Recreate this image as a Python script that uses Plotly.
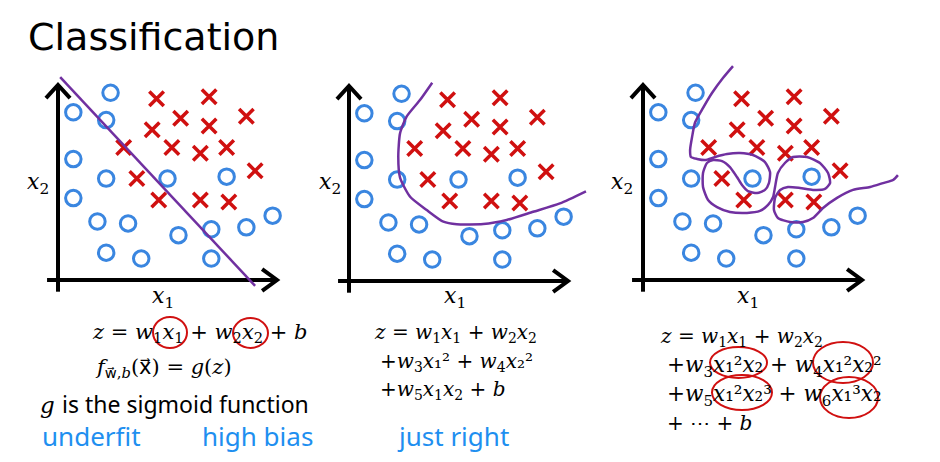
import plotly.graph_objects as go

# ---------------- data (axis units 0..10) ----------------
circ_x = [2.4, 0.7, 2.2, 0.7, 2.2, 5.0, 7.7, 0.7, 1.8, 3.2, 5.5, 7.0, 8.6, 9.8, 2.2, 3.8, 7.0]
circ_y = [9.6, 8.6, 8.2, 6.2, 5.2, 5.2, 5.3, 4.2, 3.0, 2.9, 2.3, 2.6, 2.7, 3.3, 1.4, 1.1, 1.1]
cross_x = [4.5, 6.9, 5.6, 8.6, 4.3, 6.9, 3.0, 5.2, 6.5, 7.7, 9.0, 3.6, 4.6, 6.5, 7.8]
cross_y = [9.3, 9.4, 8.3, 8.4, 7.7, 7.9, 6.8, 6.8, 6.5, 6.8, 5.6, 5.2, 4.1, 4.1, 4.0]

# decision boundaries
b1_x = [0.1, 9.0]
b1_y = [10.4, -0.3]
b2_x = [3.80, 3.24, 2.63, 2.33, 2.25, 2.33, 2.79, 3.55, 4.31, 4.92, 6.13, 7.20, 8.41, 9.63, 10.82]
b2_y = [10.17, 9.28, 8.43, 7.57, 6.37, 5.30, 4.32, 3.64, 3.04, 2.91, 2.92, 3.13, 3.55, 3.98, 4.60]
b3_x = [4.11, 3.65, 3.15, 2.69, 2.37, 2.24, 2.15, 2.19, 2.47, 2.83, 3.29, 3.84, 4.43, 5.02, 5.57,
        5.80, 5.75, 5.57, 5.21, 4.79, 4.52, 4.29, 3.97, 3.61, 3.20, 2.92, 2.74, 2.74, 2.97, 3.38,
        3.97, 4.75, 5.34, 5.71, 5.94, 6.03, 6.16, 6.48, 6.85, 7.49, 8.08, 8.45, 8.54, 8.31, 7.76,
        7.17, 6.62, 6.26, 6.03, 5.98, 6.16, 6.71, 7.31, 7.76, 8.22, 8.86, 9.59, 10.37, 10.96, 11.42, 11.64]
b3_y = [10.97, 10.36, 9.59, 8.72, 8.05, 7.33, 6.67, 6.31, 6.21, 6.15, 6.31, 6.46, 6.51, 6.41, 6.05,
        5.54, 4.97, 4.62, 4.46, 4.56, 4.87, 5.28, 5.79, 6.10, 6.15, 6.00, 5.49, 4.77, 4.10, 3.74,
        3.49, 3.44, 3.54, 3.85, 4.26, 4.77, 5.49, 6.00, 6.31, 6.31, 6.00, 5.49, 4.97, 4.67, 4.62,
        4.72, 4.77, 4.62, 4.21, 3.59, 3.18, 2.97, 2.97, 3.18, 3.69, 4.21, 4.62, 4.77, 4.97, 5.13, 5.38]
boundaries_x = [b1_x, b2_x, b3_x]
boundaries_y = [b1_y, b2_y, b3_y]

panel_labels = ["underfit", "high bias", "just right"]

# ---------------- layout helpers ----------------
OFF = 8                       # page body margin
W, H = 940 - 2 * OFF, 462 - 2 * OFF
SX, SY = 21.9, 19.5           # pixels per axis unit
origins = [(58, 280), (349, 281), (643, 280)]
xdoms_px = [(10, 300), (305, 605), (610, 930)]
PT, PB = 50, 310

BLUE = "#3a86e0"
RED = "#d01010"
PURPLE = "#7030a0"


def fx(x):
    return (x - OFF) / W


def fy(y):
    return 1 - (y - OFF) / H


fig = go.Figure()
layout = dict(width=W, height=H, margin=dict(l=0, r=0, t=0, b=0),
              paper_bgcolor="white", plot_bgcolor="white", showlegend=False)

for i in range(3):
    ox, oy = origins[i]
    xl, xr = xdoms_px[i]
    sfx = "" if i == 0 else str(i + 1)
    layout["xaxis" + sfx] = dict(domain=[fx(xl), fx(xr)], range=[(xl - ox) / SX, (xr - ox) / SX],
                                 visible=False, fixedrange=True, anchor="y" + sfx)
    layout["yaxis" + sfx] = dict(domain=[fy(PB), fy(PT)], range=[(oy - PB) / SY, (oy - PT) / SY],
                                 visible=False, fixedrange=True, anchor="x" + sfx)
    xa, ya = "x" + sfx, "y" + sfx
    # axes with open arrow heads
    fig.add_trace(go.Scatter(x=[-0.5, 10, None, 9.32, 10, 9.32], y=[0, 0, None, 0.56, 0, -0.56],
                             mode="lines", line=dict(color="black", width=4), xaxis=xa, yaxis=ya,
                             hoverinfo="skip"))
    fig.add_trace(go.Scatter(x=[0, 0, None, -0.55, 0, 0.55], y=[-0.6, 10, None, 9.33, 10, 9.33],
                             mode="lines", line=dict(color="black", width=4), xaxis=xa, yaxis=ya,
                             hoverinfo="skip"))
    fig.add_trace(go.Scatter(x=circ_x, y=circ_y, mode="markers", xaxis=xa, yaxis=ya,
                             marker=dict(symbol="circle-open", size=15.5, color=BLUE,
                                         line=dict(width=3, color=BLUE))))
    fig.add_trace(go.Scatter(x=cross_x, y=cross_y, mode="markers", xaxis=xa, yaxis=ya,
                             marker=dict(symbol="x-thin-open", size=14.5, color=RED,
                                         line=dict(width=3.5, color=RED))))
    fig.add_trace(go.Scatter(x=boundaries_x[i], y=boundaries_y[i], mode="lines", xaxis=xa, yaxis=ya,
                             line=dict(color=PURPLE, width=2.5, shape="spline", smoothing=0.6)))

fig.update_layout(**layout)

annos = []


def text(x, y, s, size, family="DejaVu Serif", color="black", xanchor="left"):
    annos.append(dict(x=fx(x), y=fy(y), xref="paper", yref="paper", text=s, showarrow=False,
                      xanchor=xanchor, yanchor="middle",
                      font=dict(size=size, family=family, color=color)))


text(26, 37, "Classification", 38, family="DejaVu Sans")

# axis labels
for lx in [163, 455, 748]:
    text(lx, 297, "<i>x</i><sub>1</sub>", 22, xanchor="center")
for ly in [38, 330, 622]:
    text(ly, 183, "<i>x</i><sub>2</sub>", 22, xanchor="center")

EQ = 20
ARW = "<span style='font-family:DejaVu Sans'>"
# panel 1 equations
text(90, 333, "<i>z</i> = <i>w</i><sub>1</sub><i>x</i><sub>1</sub> + <i>w</i><sub>2</sub><i>x</i><sub>2</sub> + <i>b</i>", 21)
text(93, 368, "<i>f</i><sub>" + ARW + "w\u20d7</span>,<i>b</i></sub>(" + ARW + "x\u20d7</span>) = <i>g</i>(<i>z</i>)", 21)
text(38, 404, "<i>g</i> <span style='font-family:Noto Sans'>is the sigmoid function</span>", 23)

# panel 2 equations
text(372, 333, "<i>z</i> = <i>w</i><sub>1</sub><i>x</i><sub>1</sub> + <i>w</i><sub>2</sub><i>x</i><sub>2</sub>", EQ)
text(378, 362, "+<i>w</i><sub>3</sub><i>x</i>₁² + <i>w</i><sub>4</sub><i>x</i>₂²", EQ)
text(378, 390, "+<i>w</i><sub>5</sub><i>x</i><sub>1</sub><i>x</i><sub>2</sub> + <i>b</i>", EQ)

# panel 3 equations
text(658, 337, "<i>z</i> = <i>w</i><sub>1</sub><i>x</i><sub>1</sub> + <i>w</i><sub>2</sub><i>x</i><sub>2</sub>", EQ)
text(665, 366, "+<i>w</i><sub>3</sub><i>x</i>₁²<i>x</i>₂ + <i>w</i><sub>4</sub><i>x</i>₁²<i>x</i>₂²", 21.5)
text(665, 395, "+<i>w</i><sub>5</sub><i>x</i>₁²<i>x</i>₂³ + <i>w</i><sub>6</sub><i>x</i>₁³<i>x</i>₂", 21.5)
text(665, 423, "+ ⋯ + <i>b</i>", EQ)

# handwritten labels
HB = "#1e8ff0"
for lx, lab in zip([40, 200, 395], panel_labels):
    text(lx, 436, lab, 26, family="Noto Sans", color=HB)

fig.update_layout(annotations=annos)

# red hand-drawn circles
shapes = []
for (x0, y0, x1, y1) in [(153, 317, 187, 348), (233, 318, 268, 348),
                         (710, 347, 767, 378), (813, 342, 873, 383),
                         (712, 375, 772, 410), (820, 377, 878, 418)]:
    shapes.append(dict(type="circle", xref="paper", yref="paper",
                       x0=fx(x0), y0=fy(y1), x1=fx(x1), y1=fy(y0),
                       line=dict(color=RED, width=2)))
fig.update_layout(shapes=shapes)

fig.write_html("out.html")
